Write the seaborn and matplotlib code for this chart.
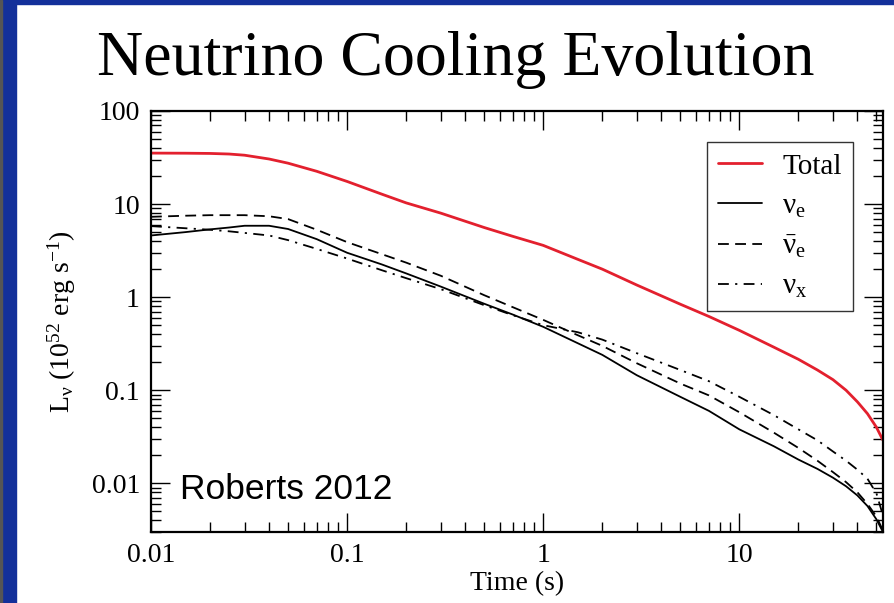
import numpy as np
import pandas as pd
import matplotlib
matplotlib.use("Agg")
import matplotlib.pyplot as plt
import seaborn as sns
from matplotlib.ticker import FuncFormatter, LogLocator, NullFormatter
from matplotlib.patches import Rectangle

# ---- data ----
time_s = [0.01, 0.015, 0.02, 0.025, 0.03, 0.04, 0.05, 0.07, 0.1, 0.15, 0.2, 0.3, 0.5, 0.7,
          1, 1.5, 2, 3, 5, 7, 10, 15, 20, 25, 30, 35, 40, 45, 50, 54]
total = [35.3, 35.2, 35.0, 34.5, 33.5, 30.5, 27.5, 22.5, 17.5, 12.8, 10.3, 8.0, 5.6, 4.5,
         3.6, 2.55, 2.0, 1.35, 0.84, 0.62, 0.44, 0.29, 0.215, 0.165, 0.13, 0.10, 0.075, 0.056, 0.040, 0.029]
nu_e = [4.6, 5.0, 5.35, 5.6, 5.85, 5.85, 5.4, 4.2, 3.0, 2.25, 1.8, 1.3, 0.85, 0.65,
        0.48, 0.32, 0.24, 0.145, 0.085, 0.06, 0.038, 0.025, 0.018, 0.0143, 0.0115, 0.0093, 0.0074, 0.0057, 0.0041, 0.003]
nu_ebar = [7.3, 7.5, 7.6, 7.6, 7.6, 7.4, 6.9, 5.3, 3.9, 2.9, 2.35, 1.7, 1.05, 0.78,
           0.57, 0.39, 0.30, 0.195, 0.118, 0.088, 0.058, 0.035, 0.024, 0.0175, 0.0132, 0.0103, 0.008, 0.006, 0.0044, 0.0031]
nu_x = [5.8, 5.5, 5.3, 5.1, 4.9, 4.6, 4.1, 3.3, 2.6, 1.95, 1.6, 1.22, 0.82, 0.64,
        0.50, 0.42, 0.35, 0.25, 0.165, 0.125, 0.085, 0.054, 0.038, 0.029, 0.022, 0.0175, 0.014, 0.0112, 0.0078, 0.0045]

series_labels = ["Total", r"$\mathrm{\nu}_\mathrm{e}$", r"$\bar{\mathrm{\nu}}_\mathrm{e}$", r"$\mathrm{\nu}_\mathrm{x}$"]
x_ticks = [0.01, 0.1, 1, 10]
y_ticks = [0.01, 0.1, 1, 10, 100]

sns.set_theme(style="ticks")
plt.rcParams["font.family"] = ["Liberation Serif", "DejaVu Serif"]
plt.rcParams["mathtext.fontset"] = "custom"
plt.rcParams["mathtext.rm"] = "Liberation Serif"
plt.rcParams["mathtext.it"] = "Liberation Serif:italic"
plt.rcParams["mathtext.bf"] = "Liberation Serif:bold"
for k in ["text.color", "axes.labelcolor", "xtick.color", "ytick.color", "axes.edgecolor"]:
    plt.rcParams[k] = "black"

W, H = 894, 603
fig = plt.figure(figsize=(W / 100, H / 100), dpi=100)
fig.patch.set_facecolor("white")

# slide border
blue = "#13309a"
fig.add_artist(Rectangle((0, 0), 16 / W, 1, transform=fig.transFigure, color=blue, zorder=0))
fig.add_artist(Rectangle((0, 1 - 4 / H), 1, 4 / H, transform=fig.transFigure, color=blue, zorder=0))
fig.add_artist(Rectangle((0, 0), 1.5 / W, 1, transform=fig.transFigure, color="#555555", zorder=1))

left, right, top, bottom = 151, 883, 111, 532
ax = fig.add_axes([left / W, 1 - bottom / H, (right - left) / W, (bottom - top) / H])

styles = [
    dict(color="#e3202e", lw=2.0, linestyle="-"),
    dict(color="black", lw=1.3, linestyle="-"),
    dict(color="black", lw=1.3, linestyle=(0, (6, 3.5))),
    dict(color="black", lw=1.3, linestyle=(0, (6, 3.5, 1.2, 3.5))),
]
for vals, lab, st in zip([total, nu_e, nu_ebar, nu_x], series_labels, styles):
    sns.lineplot(x=time_s, y=vals, ax=ax, label=lab, **st)

ax.set_xscale("log")
ax.set_yscale("log")
ax.set_xlim(0.01, 54)
ax.set_ylim(0.003, 100)
ax.set_xticks(x_ticks)
ax.set_yticks(y_ticks)
fmt = FuncFormatter(lambda v, p: f"{v:g}")
ax.xaxis.set_major_formatter(fmt)
ax.yaxis.set_major_formatter(fmt)
ax.xaxis.set_minor_locator(LogLocator(base=10, subs=np.arange(2, 10), numticks=20))
ax.yaxis.set_minor_locator(LogLocator(base=10, subs=np.arange(2, 10), numticks=20))
ax.xaxis.set_minor_formatter(NullFormatter())
ax.yaxis.set_minor_formatter(NullFormatter())
ax.tick_params(which="both", direction="in", top=True, right=True, colors="black",
               labelsize=20)
ax.tick_params(which="major", length=14, width=1.0, pad=8)
ax.tick_params(which="minor", length=7, width=1.0)
for s in ax.spines.values():
    s.set_linewidth(1.6)
    s.set_color("black")
    s.set_visible(True)

ax.set_xlabel("Time (s)", fontsize=20, labelpad=2)
ax.set_ylabel(r"L$_\mathrm{\nu}$ (10$^{52}$ erg s$^{-1}$)", fontsize=20, labelpad=10)

ax.text(0.04, 0.078, "Roberts 2012", transform=ax.transAxes, fontsize=25.5,
        family="Liberation Sans", va="baseline", ha="left", color="black")

leg = ax.legend(loc="upper right", bbox_to_anchor=(0.959, 0.926), fontsize=21,
                frameon=True, fancybox=False, handlelength=1.5, handletextpad=0.7,
                labelspacing=0.46, borderpad=0.38, borderaxespad=0.0)
leg.get_frame().set_edgecolor("black")
leg.get_frame().set_linewidth(1.0)

fig.text(456 / W, 1 - 75 / H, "Neutrino Cooling Evolution", ha="center", va="baseline",
         fontsize=46, family="Liberation Serif", color="black")

fig.savefig("out.png", dpi=100)
